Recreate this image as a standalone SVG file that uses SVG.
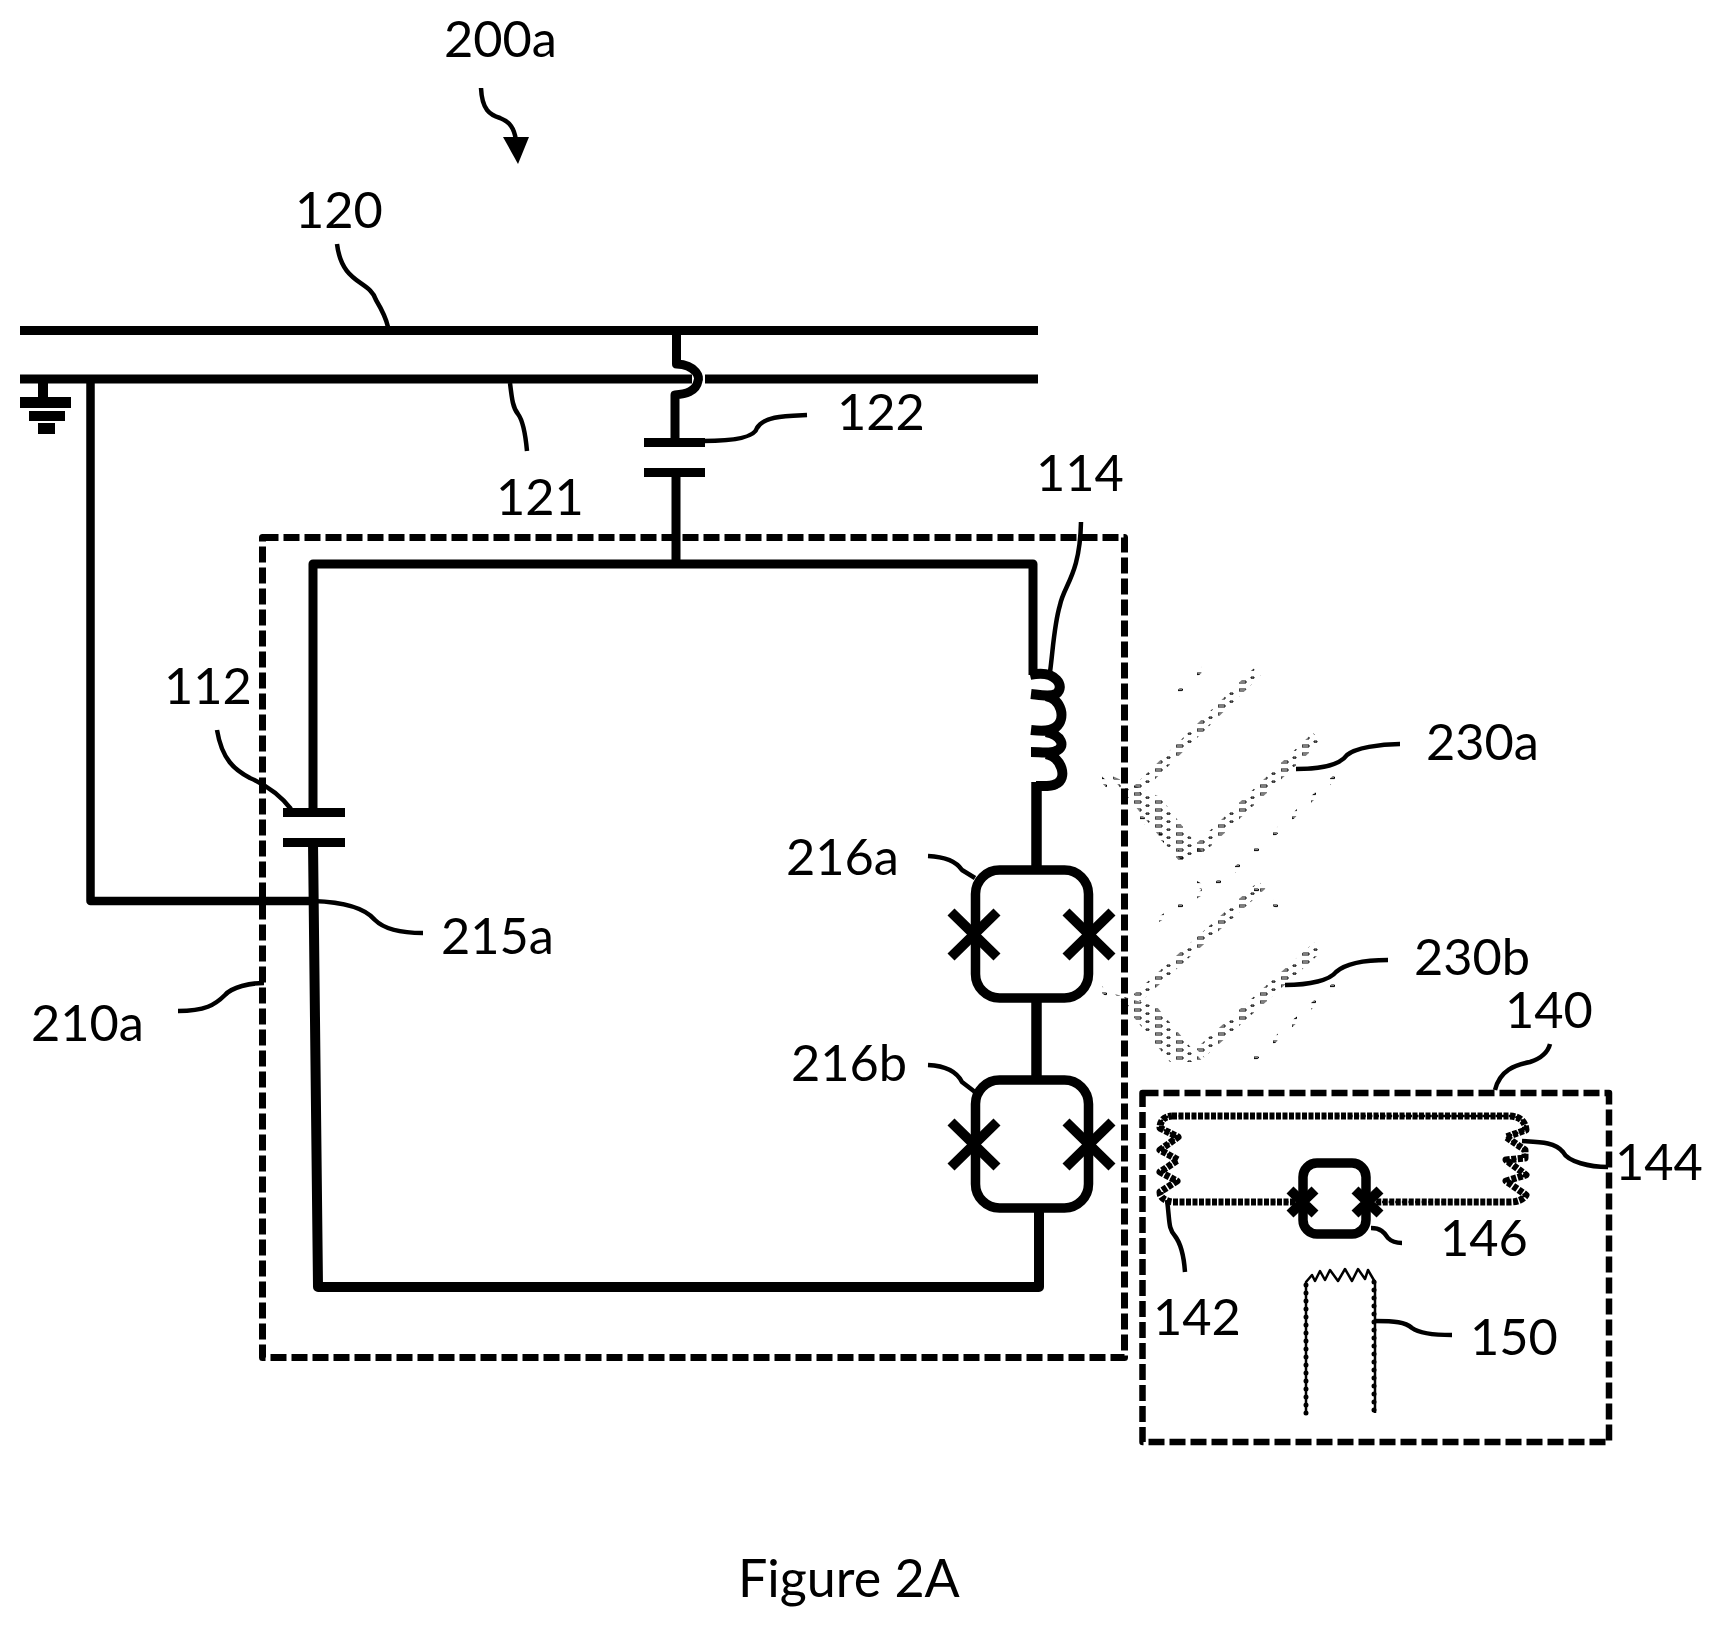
<svg xmlns="http://www.w3.org/2000/svg" width="1722" height="1628" viewBox="0 0 1722 1628">
<style>
text{font-family:"Lato","Carlito","Liberation Sans",sans-serif;font-size:50.5px;fill:#000}
path,rect,line{fill:none;stroke:#000;stroke-linejoin:round}
.w{stroke-width:9}
.p{stroke-width:9.5}
.l{stroke-width:4.5;stroke-linecap:butt}
.d{stroke-width:7;stroke-dasharray:16 5}
.x{stroke-width:10}
.s{fill:#000;stroke:none}
.ta{stroke-width:7;stroke-dasharray:5 1.5}
.tb{stroke:#fff;stroke-width:2.4;stroke-dasharray:2.4 4.2}
.fa{stroke-width:2.5}
.fb{stroke-width:5;stroke-linecap:round;stroke-dasharray:0 8}
.gh{stroke:url(#ht);stroke-linecap:butt}
.gl{stroke:url(#hl);stroke-linecap:butt}
</style>
<defs>
<pattern id="ht" width="21" height="8" patternUnits="userSpaceOnUse"><rect x="0" y="1" width="7" height="2" fill="#000" stroke="none"/><rect x="12" y="5" width="3" height="1.2" fill="#000" stroke="none"/></pattern>
<pattern id="hl" width="19" height="8" patternUnits="userSpaceOnUse"><rect x="0" y="1" width="4.5" height="1.6" fill="#000" stroke="none"/></pattern>
<path id="q" d="M1172 1116H1510Q1525 1117 1526 1130L1506 1137L1525 1150L1525 1158L1506 1160L1526 1175L1506 1181L1526 1195Q1522 1202 1510 1202H1375M1295 1202H1172Q1160 1200 1160 1192L1177 1181L1160 1172L1178 1160L1160 1150L1178 1137L1160 1128Q1160 1117 1172 1116"/>
</defs>
<g id="connectors">
<path class="l" d="M337 244C342 285 370 280 376 300C382 310 386 318 388 327"/>
<path class="l" d="M510 383C512 400 513 408 518 414C524 422 526 440 527 451"/>
<path class="l" d="M703 441C740 441 755 436 757 428C764 416 785 416 807 415"/>
<path class="l" d="M1081 522C1080 575 1064 585 1060 605C1054 625 1053 650 1050 672"/>
<path class="l" d="M217 730C222 760 235 770 250 778C268 786 280 795 291 809"/>
<path class="l" d="M313 901C345 902 365 908 375 920C385 930 405 933 423 933"/>
<path class="l" d="M178 1011C205 1011 215 1005 225 995C232 987 250 983 264 983"/>
<path class="l" d="M928 856C950 857 958 864 962 870L975 878"/>
<path class="l" d="M928 1065C950 1066 958 1074 962 1082L975 1092"/>
<path class="l" d="M1296 769C1320 769 1340 765 1347 755C1355 748 1380 744 1400 744"/>
<path class="l" d="M1285 985C1310 985 1330 980 1336 972C1345 964 1365 960 1388 960"/>
<path class="l" d="M1495 1090C1500 1070 1515 1065 1530 1062C1542 1058 1548 1052 1550 1044"/>
<path class="l" d="M1522 1141C1540 1142 1555 1142 1563 1152C1568 1162 1590 1167 1608 1167"/>
<path class="l" d="M1167 1200C1170 1222 1168 1228 1175 1236C1182 1245 1184 1258 1185 1272"/>
<path class="l" d="M1371 1228C1382 1228 1385 1234 1388 1238C1392 1242 1397 1243 1402 1243"/>
<path class="l" d="M1375 1321C1395 1321 1405 1322 1412 1328C1420 1334 1435 1335 1452 1335"/>
<path class="l" d="M481 88C482 110 490 115 500 118C510 122 514 128 516 140"/>
<path class="s" d="M503 137L529 137L518 164Z"/>
</g>
<g id="bus-120"><line class="w" x1="20" y1="330.5" x2="1038" y2="330.5"/></g>
<g id="line-121"><path class="w" d="M20 379H692M705 379H1038"/></g>
<g id="ground">
<line class="w" x1="43" y1="383" x2="43" y2="398" style="stroke-width:10"/>
<rect class="s" x="20" y="397" width="51" height="11"/>
<rect class="s" x="29" y="411" width="36" height="10"/>
<rect class="s" x="38" y="423" width="17" height="11"/>
<path class="w" d="M90.5 379V901H313" style="stroke-width:8.5"/>
</g>
<g id="coupler-122">
<path class="w" d="M676.5 335V364C697 365 700 378 698 381C696 392 685 394 675 395V443"/>
<rect class="s" x="644" y="438" width="61" height="9"/>
<rect class="s" x="644" y="468" width="61" height="9"/>
<line class="w" x1="676" y1="477" x2="676" y2="568"/>
</g>
<g id="resonator">
<path class="w" d="M313 812V564H1033V675"/>
<path class="w" d="M313 842L318 1287H1039V1208" style="stroke-width:10"/>
<rect class="s" x="283" y="808" width="62" height="9"/>
<rect class="s" x="283" y="838" width="62" height="9"/>
</g>
<g id="inductor-114">
<path class="w" style="stroke-width:10" d="M1030 675C1056 669 1066 687 1056 694C1050 697 1040 695 1031 694M1046 696C1062 699 1066 719 1056 727C1050 732 1040 731 1031 730M1046 732C1062 735 1066 747 1056 751C1050 754 1040 752 1031 752M1046 754C1062 757 1068 779 1056 784C1050 787 1044 786 1036 786"/>
<line class="w" x1="1036.5" y1="782" x2="1036.5" y2="870" style="stroke-width:10.5"/>
</g>
<g id="squid-216a">
<rect class="p" x="975.5" y="870" width="113" height="128" rx="24"/>
<path class="x" d="M951 912L997 957M997 912L951 957M1066 912L1112 957M1112 912L1066 957"/>
</g>
<line class="w" x1="1036.5" y1="1000" x2="1036.5" y2="1080" style="stroke-width:10.5"/>
<g id="squid-216b">
<rect class="p" x="975.5" y="1080" width="113" height="128" rx="24"/>
<path class="x" d="M951 1122L997 1167M997 1122L951 1167M1066 1122L1112 1167M1112 1122L1066 1167"/>
</g>
<g id="box-210a"><rect class="d" x="262.5" y="537.5" width="862" height="820"/></g>
<g id="ghost-230a">
<path class="gh" style="stroke-width:10" d="M1257 672L1137 790"/>
<path class="gl" style="stroke-width:4" d="M1210 662L1170 700"/>
<path class="gh" style="stroke-width:12" d="M1317 737L1196 852"/>
<path class="gl" style="stroke-width:5" d="M1345 768L1227 877L1153 923M1095 773L1187 862M1187 877L1214 895M1250 885L1290 916"/>
<path d="M1110 775L1160 797L1203 853L1180 862Z" style="fill:url(#ht);stroke:none"/>
</g>
<g id="ghost-230b">
<path class="gh" style="stroke-width:10" d="M1262 885L1137 998"/>
<path class="gh" style="stroke-width:12" d="M1318 947L1200 1053"/>
<path class="gl" style="stroke-width:5" d="M1345 975L1253 1060M1093 982L1120 1005"/>
<path d="M1115 994L1157 1007L1203 1062L1170 1062Z" style="fill:url(#ht);stroke:none"/>
</g>
<g id="box-140"><rect class="d" x="1142.5" y="1093" width="466.5" height="349" style="stroke-width:6.5"/></g>
<g id="qubit-142">
<use href="#q" class="ta"/>
<use href="#q" class="tb"/>
</g>
<g id="squid-146">
<rect class="p" x="1303" y="1163" width="63" height="71" rx="14"/>
<path class="x" d="M1290 1190L1315 1214M1315 1190L1290 1214M1355 1190L1380 1214M1380 1190L1355 1214"/>
</g>
<g id="gate-150">
<path class="fa" d="M1306 1413V1282L1312 1275L1315 1281L1320 1271L1325 1280L1330 1270L1338 1281L1345 1269L1352 1281L1358 1269L1365 1279L1368 1270L1375 1282V1413"/>
<path class="fb" d="M1306 1413V1282M1374 1282V1413"/>
</g>
<g id="labels">
<text x="444" y="57">200a</text>
<text x="295" y="228">120</text>
<text x="837" y="430">122</text>
<text x="1036" y="491">114</text>
<text x="496" y="515">121</text>
<text x="164" y="704">112</text>
<text x="1426" y="760">230a</text>
<text x="1414" y="975">230b</text>
<text x="1505" y="1028">140</text>
<text x="786" y="875">216a</text>
<text x="791" y="1081">216b</text>
<text x="441" y="954">215a</text>
<text x="31" y="1041">210a</text>
<text x="1615" y="1180">144</text>
<text x="1440" y="1256">146</text>
<text x="1153" y="1335">142</text>
<text x="1470" y="1355">150</text>
<text x="738" y="1597" style="font-size:52px">Figure 2A</text>
</g>
</svg>
